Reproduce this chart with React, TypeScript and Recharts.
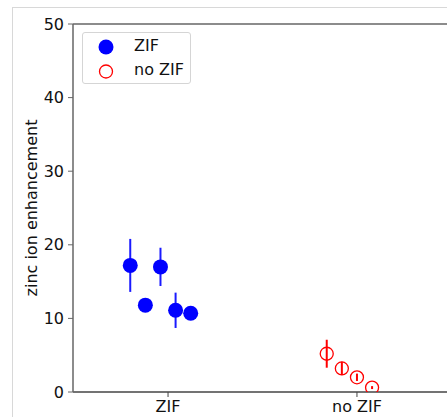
import { ErrorBar, Label, ReferenceLine, Scatter, ScatterChart, XAxis, YAxis } from "recharts";

const categories = ["ZIF", "no ZIF"];
const yTicks = [0, 10, 20, 30, 40, 50];

const zifX = [-0.2, -0.12, -0.04, 0.04, 0.12];
const zifValues = [17.2, 11.8, 17.0, 11.1, 10.7];
const zifErrors = [3.6, 0.4, 2.6, 2.4, 0.3];

const noZifX = [0.84, 0.92, 1.0, 1.08];
const noZifValues = [5.2, 3.2, 2.0, 0.6];
const noZifErrors = [1.9, 0.9, 0.5, 0.2];

const zifData = zifX.map((x, i) => ({ x, y: zifValues[i], err: zifErrors[i] }));
const noZifData = noZifX.map((x, i) => ({ x, y: noZifValues[i], err: noZifErrors[i] }));

const font = "'DejaVu Sans', sans-serif";
const spine = "#666";

const Filled = (p: any) => <circle cx={p.cx} cy={p.cy} r={7.5} fill="#0000ff" />;
const Hollow = (p: any) => <circle cx={p.cx} cy={p.cy} r={6.5} fill="none" stroke="#ff0000" strokeWidth={1.3} />;

function LegendBox() {
  return <div style={{ position: "absolute", left: 82, top: 32, width: 107, height: 50, border: "1px solid #d5d5d5", borderRadius: 3, background: "rgba(255,255,255,0.8)", fontFamily: font, fontSize: 16, color: "#111" }}>
    <svg width={30} height={50} style={{ position: "absolute", left: 8, top: 0 }}>
      <circle cx={15} cy={14} r={7.5} fill="#0000ff" />
      <circle cx={15} cy={38.5} r={6.5} fill="none" stroke="#ff0000" strokeWidth={1.3} />
    </svg>
    <div style={{ position: "absolute", left: 51, top: 3, lineHeight: "20px" }}>ZIF</div>
    <div style={{ position: "absolute", left: 51, top: 27, lineHeight: "20px" }}>no ZIF</div>
  </div>;
}

export default function App() {
  return <div style={{ position: "absolute", left: 0, top: 0, width: 447, height: 417, overflow: "hidden", background: "#fff" }}>
    <div style={{ position: "absolute", left: 12, top: 7, width: 500, height: 500, borderTop: "1px solid #d8d8d8", borderLeft: "1px solid #d8d8d8" }} />
    <div style={{ position: "absolute", left: 0, top: 0 }}>
      <ScatterChart width={460} height={417} margin={{ top: 24, right: 8, left: 0, bottom: 0 }}>
        <XAxis type="number" dataKey="x" domain={[-0.503, 1.503]} allowDataOverflow ticks={[0, 1]} tickFormatter={(v: number) => categories[v]}
          height={25} tickSize={5} tickMargin={4} axisLine={{ stroke: "#444", strokeWidth: 1.3 }} tickLine={{ stroke: "#444" }}
          tick={{ fill: "#111", fontSize: 16, fontFamily: font }} />
        <YAxis type="number" dataKey="y" domain={[0, 50]} allowDataOverflow ticks={yTicks} width={73} tickSize={5} tickMargin={4}
          axisLine={{ stroke: spine, strokeWidth: 1.5 }} tickLine={{ stroke: spine }} tick={{ fill: "#111", fontSize: 16, fontFamily: font }}>
          <Label content={() => <text x={31} y={208} transform="rotate(-90 31 208)" textAnchor="middle" dominantBaseline="central" fontSize={16} fontFamily={font} fill="#111">zinc ion enhancement</text>} />
        </YAxis>
        <ReferenceLine y={50} stroke={spine} strokeWidth={1.5} />
        <Scatter name="ZIF" data={zifData} shape={Filled} isAnimationActive={false}>
          <ErrorBar dataKey="err" direction="y" width={0} stroke="#1a1aff" strokeWidth={2} />
        </Scatter>
        <Scatter name="no ZIF" data={noZifData} shape={Hollow} isAnimationActive={false}>
          <ErrorBar dataKey="err" direction="y" width={0} stroke="#ff0000" strokeWidth={2} />
        </Scatter>
      </ScatterChart>
    </div>
    <LegendBox />
  </div>;
}
